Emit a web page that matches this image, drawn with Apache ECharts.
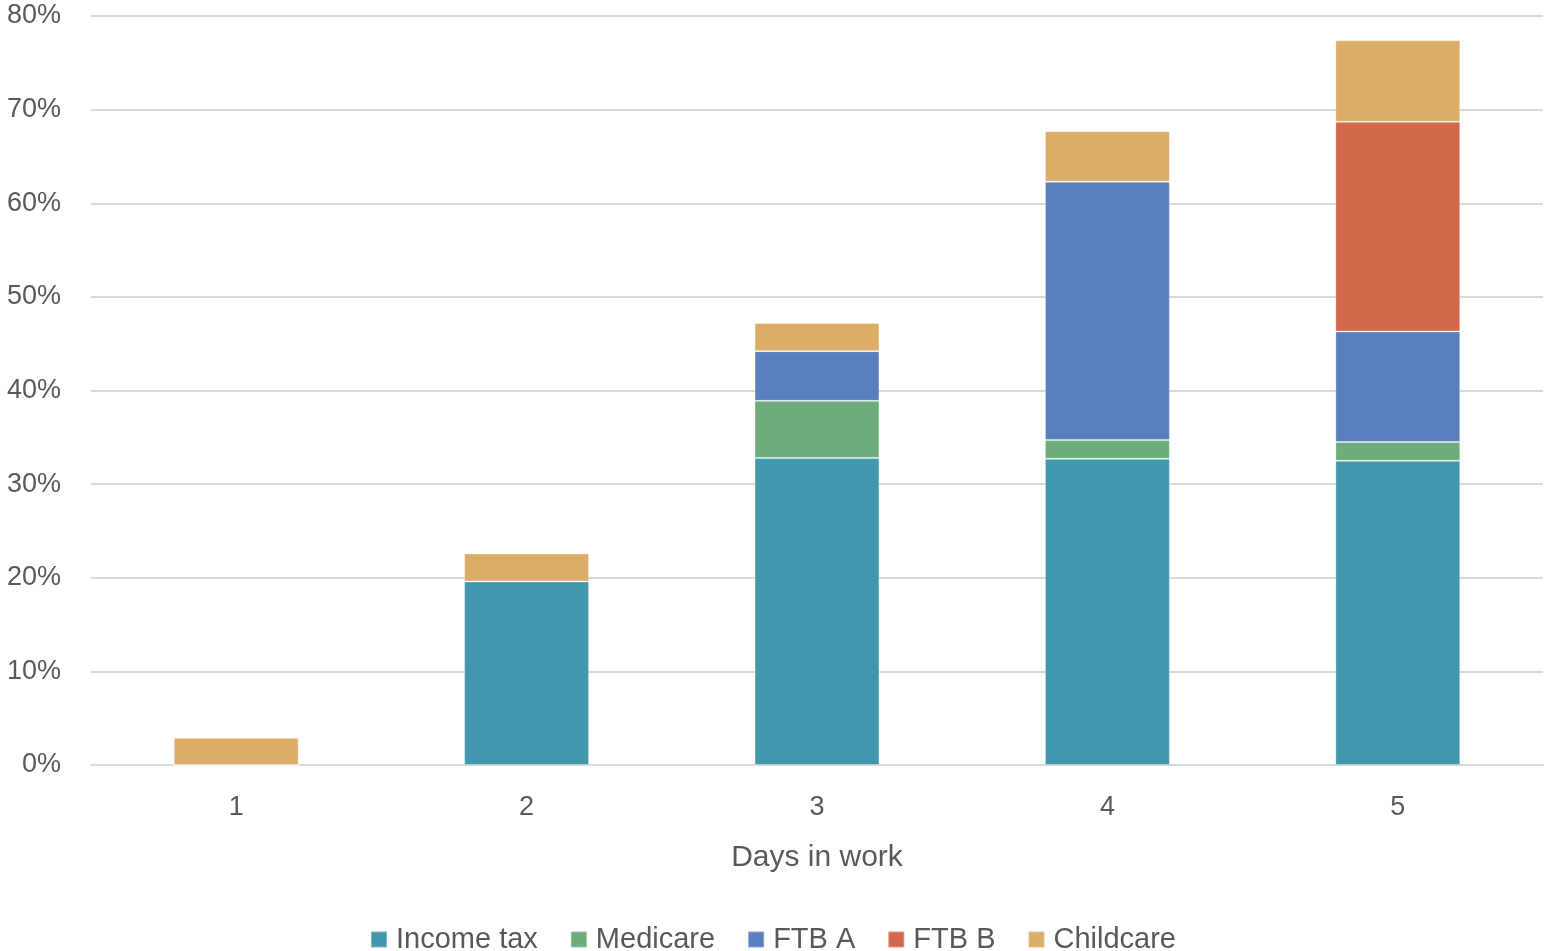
<!DOCTYPE html>
<html>
<head>
<meta charset="utf-8">
<title>Days in work</title>
<script src="https://cdn.jsdelivr.net/npm/echarts@6/dist/echarts.min.js"></script>
<style>
  html, body { margin: 0; padding: 0; background: #fff; }
  #chart { width: 1546px; height: 951px; }
</style>
</head>
<body>
<div id="chart"></div>
<script>
// Categories: number of days worked per week
const days = ['1', '2', '3', '4', '5'];

// Effective marginal rate components (percent)
const incomeTax = [0, 19.6, 32.8, 32.7, 32.5];
const medicare  = [0, 0, 6.1, 2.0, 2.0];
const ftbA      = [0, 0, 5.3, 27.6, 11.8];
const ftbB      = [0, 0, 0, 0, 22.4];
const childcare = [2.9, 3.0, 3.0, 5.4, 8.7];

const yTicks = { min: 0, max: 80, interval: 10 };

const textColor = '#595959';
const fontFamily = '"Liberation Sans", Arial, sans-serif';

const seriesDefs = [
  { name: 'Income tax', data: incomeTax, color: '#4397ad' },
  { name: 'Medicare',   data: medicare,  color: '#6bae7c' },
  { name: 'FTB A',      data: ftbA,      color: '#5b7ebd' },
  { name: 'FTB B',      data: ftbB,      color: '#d2694c' },
  { name: 'Childcare',  data: childcare, color: '#dcac69' }
];

const chart = echarts.init(document.getElementById('chart'), null, { renderer: 'canvas' });

chart.setOption({
  animation: false,
  textStyle: { fontFamily: fontFamily },
  grid: { left: 91, right: 3, top: 16, bottom: 186, containLabel: false },
  legend: {
    top: 920,
    left: 'center',
    itemWidth: 16,
    itemHeight: 16,
    itemGap: 32,
    icon: 'rect',
    textStyle: { color: textColor, fontSize: 29, fontFamily: fontFamily, padding: [0, 0, 0, 4] },
    data: seriesDefs.map(s => s.name)
  },
  xAxis: {
    type: 'category',
    data: days,
    name: 'Days in work',
    nameLocation: 'middle',
    nameGap: 78,
    nameTextStyle: { color: textColor, fontSize: 30, fontFamily: fontFamily },
    axisLine: { show: true, lineStyle: { color: '#d9d9d9', width: 2 } },
    axisTick: { show: false },
    axisLabel: { color: textColor, fontSize: 27, margin: 29 }
  },
  yAxis: {
    type: 'value',
    min: yTicks.min,
    max: yTicks.max,
    interval: yTicks.interval,
    axisLine: { show: false },
    axisTick: { show: false },
    axisLabel: { color: textColor, fontSize: 27, margin: 30, formatter: '{value}%' },
    splitLine: { lineStyle: { color: '#d9d9d9', width: 2 } }
  },
  series: seriesDefs.map(s => ({
    name: s.name,
    type: 'bar',
    stack: 'total',
    barWidth: '43%',
    data: s.data,
    itemStyle: {
      color: s.color,
      borderColor: 'rgba(255,255,255,0.3)',
      borderWidth: 1
    }
  }))
});
</script>
</body>
</html>
